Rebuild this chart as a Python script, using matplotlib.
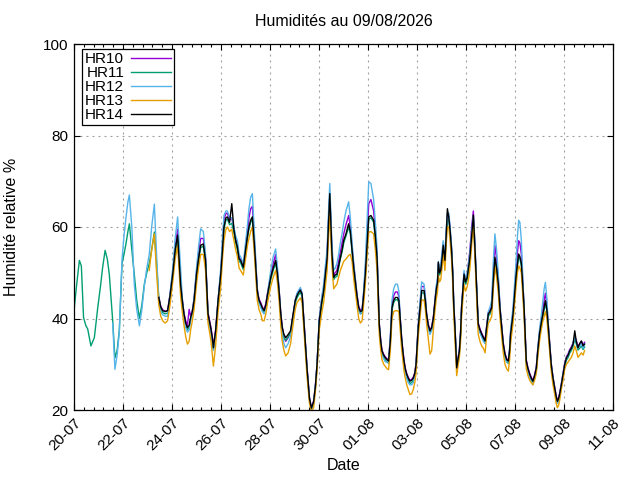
import numpy as np
import matplotlib
matplotlib.use("Agg")
import matplotlib.pyplot as plt
from matplotlib.ticker import MultipleLocator

NA = np.nan

# days since 20-07 00:00 -- early part, only HR11 / HR12 / HR13 logging
t_early = [0.0, 0.1, 0.22, 0.3, 0.39, 0.48, 0.56, 0.69, 0.83, 0.97,
           1.08, 1.17, 1.27, 1.36, 1.44, 1.52, 1.58, 1.67, 1.76, 1.85,
           1.96, 2.04, 2.12, 2.2, 2.26, 2.36, 2.46, 2.56, 2.67, 2.77,
           2.87, 2.97, 3.07, 3.17, 3.28, 3.37]
hr11_early = [41.7, 47, 52.7, 51.5, 40.2, 38.5, 37.7, 34, 35.8, 42.4,
              47, 51.2, 54.9, 53, 49.7, 44, 39.5, 31.4, 33, 37.5,
              52, 54, 56.3, 59, 60.7, 55, 49.7, 44, 40, 43,
              47.5, 50, 52, 55, 58.9, 52]
hr12_early = [NA] * 16 + [39, 28.9, 32, 37,
              53, 58, 62, 65.5, 67, 60, 47.5, 42, 38.4, 42,
              47, 51, 54, 60, 65, 54]
hr13_early = [NA] * 32 + [50.5, 55, 58.5, 50]

# main part, all five sensors
t_main = [3.46, 3.54, 3.62, 3.72, 3.82, 3.92, 4.03, 4.13, 4.23, 4.35,
          4.42, 4.49, 4.56, 4.63, 4.7, 4.76, 4.83, 4.9, 5.0, 5.08,
          5.17, 5.28, 5.37, 5.47, 5.58, 5.64, 5.69, 5.78, 5.88, 5.99,
          6.06, 6.12, 6.2, 6.26, 6.35, 6.44, 6.53, 6.6, 6.67, 6.74, 6.8,
          6.91, 7.0, 7.08, 7.14, 7.21, 7.28, 7.37, 7.48, 7.55, 7.62,
          7.69, 7.76, 7.83, 7.9, 8.03, 8.13, 8.23, 8.3, 8.37, 8.44,
          8.5, 8.57, 8.64, 8.74, 8.84, 8.9, 9.03, 9.1, 9.17, 9.24,
          9.31, 9.41, 9.51, 9.61, 9.69, 9.78, 9.85, 9.92, 10.01,
          10.12, 10.19, 10.26, 10.33, 10.37, 10.44, 10.49, 10.53, 10.6, 10.66, 10.73,
          10.8, 10.87, 10.94, 11.01, 11.1, 11.21, 11.28, 11.35, 11.42, 11.48,
          11.55, 11.62, 11.69, 11.76, 11.82, 11.89, 11.96, 12.03, 12.12, 12.23,
          12.3, 12.37, 12.42, 12.46, 12.52, 12.57, 12.64, 12.71, 12.78, 12.84, 12.91,
          12.98, 13.05, 13.12, 13.2, 13.26, 13.31, 13.37, 13.42, 13.47, 13.52, 13.58,
          13.64, 13.71, 13.78, 13.85, 13.91, 13.96, 14.05, 14.12, 14.19, 14.29,
          14.34, 14.39, 14.46, 14.53, 14.6, 14.67, 14.72, 14.78, 14.84, 14.87, 14.92,
          14.97, 15.02, 15.07, 15.14, 15.19, 15.24, 15.3, 15.35, 15.41, 15.46, 15.5,
          15.55, 15.62, 15.67, 15.73, 15.78, 15.82, 15.87, 15.92, 15.98, 16.05, 16.1,
          16.16, 16.23, 16.3, 16.36, 16.41, 16.46, 16.5, 16.57, 16.64, 16.71,
          16.78, 16.84, 16.91, 16.98, 17.05, 17.11, 17.18, 17.25, 17.32, 17.39,
          17.46, 17.52, 17.59, 17.66, 17.73, 17.78, 17.82, 17.92, 18.05,
          18.1, 18.15, 18.2, 18.26, 18.32, 18.37, 18.42, 18.46, 18.53, 18.6, 18.66,
          18.73, 18.8, 18.87, 18.93, 19.0, 19.07, 19.14, 19.19, 19.24, 19.3,
          19.35, 19.42, 19.48, 19.55, 19.62, 19.68, 19.73, 19.78, 19.82, 19.89,
          19.96, 20.03, 20.1, 20.17, 20.23, 20.3, 20.37, 20.44, 20.5,
          20.57, 20.64, 20.71, 20.78, 20.84]

hr14_main = [44.6, 42.5, 41.7, 41.5, 41.7, 45, 49.7, 55, 58.2, 47.5,
             43.9, 41, 39, 38, 38.5, 40.2, 41.5, 43.9, 49.7, 53,
             56, 56.3, 52.7, 41, 38, 36, 33.6, 37.3, 43.9, 49.7,
             55, 60, 62, 62.2, 61, 65.1, 59.3, 57, 55.6, 53, 52.7,
             51.2, 54.9, 58, 60, 61.5, 62.2, 55.6, 46.1, 44, 43.2,
             42.3, 41.7, 43, 45.3, 49, 51, 52.7, 50, 46.1, 41,
             38, 36.5, 35.8, 36.5, 37.3, 39.5, 43.9, 45, 45.7, 46.2,
             45.3, 37.3, 29.2, 22.6, 20.4, 21.8, 25, 29.9, 39.5,
             43.9, 46, 49.7, 53, 58.5, 67.3, 60, 54.1, 49, 49.5, 49.7,
             51.5, 53.4, 55, 57.1, 58.5, 60.7, 59, 54.9, 51, 48.3,
             45, 42.4, 41.5, 41.7, 45, 49.7, 56, 62.2, 62.5, 61.5,
             58, 53.4, 45, 38.8, 35, 32.9, 32, 31.4, 31, 30.7, 35,
             42.4, 44, 44.6, 44.6, 44, 40.2, 35.8, 33, 30.7, 29, 27.8,
             27, 26.3, 26.5, 27, 28, 29.9, 38, 42, 46.1, 46.1,
             44, 41, 38.5, 37.3, 38, 40.2, 43, 46.1, 48, 52.3, 50,
             50.5, 53, 56, 52.7, 58, 64, 62, 59.3, 55, 49.7, 43,
             38, 29.2, 31, 32.9, 37, 42.4, 46, 49.7, 48, 49, 51,
             53.4, 58, 62.6, 56, 49.7, 43, 38.8, 37.5, 36.6, 35.8,
             35.1, 38, 41, 41.5, 42.4, 48, 53.4, 51, 47.5, 42,
             38, 34.5, 32.2, 31, 30.7, 33, 36.6, 41, 49.7,
             52, 54.1, 53.5, 52, 47, 42.4, 36, 30.7, 29, 27.8, 27,
             26.3, 27.5, 29.2, 33, 36.6, 39, 41, 42.5, 43.9, 42,
             38.8, 34, 29.9, 27, 24.8, 23, 21.9, 22.5, 23.4, 25.5,
             27.8, 30, 31.4, 32, 32.9, 33.5, 34.4, 37.3, 35,
             33.6, 34.5, 35.1, 34, 34.4]

hr10_main = [44.8, 42.7, 41.9, 41.6, 41.8, 45.2, 50.2, 55.8, 59.5, 48,
             44.2, 41.2, 39.5, 38.5, 42, 40.5, 41.8, 44.2, 50.2, 54,
             57.5, 57.5, 53.2, 41.3, 38.3, 36.3, 34, 37.5, 44, 50,
             56, 61.5, 63, 63, 61.5, 62, 59.5, 57.3, 56, 53.3, 53,
             51.5, 55.5, 59, 62, 64, 64.5, 56.5, 46.5, 44.3, 43.5,
             42.5, 42, 43.3, 45.6, 49.5, 52, 54, 50.5, 46.5, 41.2,
             38.3, 36, 35, 35.8, 37, 39.2, 44, 45.3, 46, 46.5,
             45.5, 37.5, 29.5, 22.8, 20.5, 22, 25.2, 30, 39.8,
             44.5, 46.5, 50.5, 54, 59.5, 67, 60.5, 54.5, 49.5, 50, 50.5,
             52.5, 54.5, 56.5, 58.5, 60.5, 62.5, 60, 55.5, 51.5, 48.6,
             45.3, 42.7, 41.8, 42, 45.5, 50.5, 58, 65.1, 66, 63.5,
             59, 54, 45.3, 39, 35.2, 33.1, 32.2, 31.6, 31.2, 31, 35.5,
             43, 45, 45.8, 45.8, 44.8, 40.5, 36, 33.2, 30.9, 29.2, 28,
             27.2, 26.5, 26.7, 27.2, 28.2, 30.1, 38.5, 42.8, 47, 47,
             44.5, 41.2, 38.8, 37.5, 38.2, 40.5, 43.3, 46.5, 48.5, 52, 50.5,
             51, 53.5, 56.5, 53, 58.5, 62.5, 62.5, 59.5, 55.3, 50, 43.3,
             38.3, 30, 31.3, 33.2, 37.3, 42.7, 46.3, 50, 48.3, 49.5, 52,
             55, 60, 63.5, 56.5, 50, 43.3, 39, 37.8, 36.8, 36,
             35.3, 38.2, 41.3, 41.8, 43, 49.5, 56, 53, 48.5, 42.3,
             38.2, 34.7, 32.4, 31.2, 30.9, 33.3, 37, 41.5, 51,
             54.5, 57, 56.5, 54, 48, 42.7, 36.3, 31, 29.2, 28, 27.2,
             26.5, 27.7, 29.5, 33.3, 37, 39.5, 42, 44, 45.5, 43,
             39.2, 34.3, 30.2, 27.2, 25, 23.2, 22, 22.7, 23.6, 25.7,
             28, 30.3, 31.7, 32.3, 33.2, 33.8, 34.7, 36, 35.3,
             33.9, 34.5, 35, 34.3, 34.8]

hr11_main = [44.6, 42.3, 41.3, 41, 41.2, 44.5, 49.2, 54.5, 57.8, 47,
             43.3, 40.5, 38.5, 37.5, 38, 39.8, 41, 43.5, 49.2, 52.5,
             55.5, 55.8, 52.2, 40.5, 37.5, 35.5, 33.2, 36.8, 43.4, 49.2,
             54.5, 59.5, 61.5, 61.7, 60.5, 60.8, 58.8, 56.5, 55, 52.5, 52.2,
             50.7, 54.4, 57.5, 59.5, 61, 61.7, 55, 45.6, 43.5, 42.7,
             41.8, 41.2, 42.5, 44.8, 48.5, 50.5, 52.2, 49.5, 45.6, 40.5,
             37.5, 35.8, 35.2, 36, 36.8, 39, 43.4, 44.5, 45.2, 45.7,
             44.8, 36.8, 28.8, 22.2, 20.1, 21.5, 24.6, 29.5, 39,
             43.4, 45.5, 49.2, 52.5, 58, 66.5, 59.5, 53.6, 48.5, 49, 49.2,
             51, 53, 54.5, 56.5, 58, 60, 58.5, 54.4, 50.5, 47.8,
             44.5, 41.9, 41, 41.2, 44.5, 49.2, 55.5, 61.7, 62, 61,
             57.5, 52.9, 44.5, 38.3, 34.5, 32.4, 31.5, 30.9, 30.5, 30.2, 34.5,
             41.9, 43.5, 44.1, 44.1, 43.5, 39.7, 35.3, 32.5, 30.2, 28.5, 27.3,
             26.5, 25.8, 26, 26.5, 27.5, 29.4, 37.5, 41.5, 45.6, 45.6,
             43.5, 40.5, 38, 36.8, 37.5, 39.7, 42.5, 45.6, 47.5, 51, 49.5,
             50, 52.5, 55.5, 52.2, 57.5, 61.5, 61.5, 58.8, 54.5, 49.2, 42.5,
             37.5, 29.5, 30.5, 32.4, 36.5, 41.9, 45.5, 49.2, 47.5, 48.5, 50.5,
             53, 57.5, 61.5, 55.5, 49.2, 42.5, 38.3, 37, 36.1, 35.3,
             34.6, 37.5, 40.5, 41, 41.9, 47.5, 53, 50.5, 47, 41.5,
             37.5, 34, 31.7, 30.5, 30.2, 32.5, 36.1, 40.5, 49.2,
             51.5, 53.6, 53, 51.5, 46.5, 41.9, 35.5, 30.2, 28.5, 27.3, 26.5,
             25.8, 27, 28.7, 32.5, 36.1, 38.5, 40.5, 42, 43.4, 41.5,
             38.3, 33.5, 29.4, 26.5, 24.3, 22.5, 21.5, 22, 22.9, 25,
             27.3, 29.5, 30.9, 31.5, 32.4, 33, 33.9, 35.5, 34.5,
             33.1, 33.5, 34, 33.2, 33.8]

hr12_main = [44, 41.5, 40.8, 40.5, 40.5, 45.5, 51, 57.5, 62.2, 51,
             44.5, 40.5, 38, 37, 37.5, 39.5, 41.5, 44.5, 51, 55.5,
             59.6, 59, 54, 40, 37, 35, 33, 36.5, 44, 51,
             57.5, 62.5, 63.5, 63.5, 62, 62, 60, 58, 57, 54, 53.5,
             52, 56.5, 60.5, 64, 66.5, 67.3, 58, 46.5, 43.5, 42.5,
             41.5, 41, 42.5, 45.5, 50.5, 53.5, 55.2, 51.5, 46.5, 40,
             36.5, 34.5, 33.6, 34.5, 36, 38.5, 44, 45.5, 46.2, 46.8,
             45.5, 37, 29, 22.5, 20.2, 21.5, 25, 30, 40,
             45, 47.5, 51.5, 55, 61, 69.5, 62, 56, 50.5, 51, 52,
             54, 56.5, 58.5, 61, 63.5, 65.5, 62, 56.5, 52, 49,
             45, 42, 41, 41.5, 46, 52, 61, 69.9, 69.5, 66,
             61, 55.5, 45.5, 38.5, 34.5, 32, 31.2, 30.5, 30.5, 30.5, 36,
             44, 46.5, 47.5, 47.5, 46, 40.5, 35.5, 32.5, 30, 28, 27,
             26, 25.5, 25.5, 26, 27.5, 29.5, 38.5, 43.5, 48, 47.5,
             45, 41, 38, 36.5, 37.5, 40, 43, 47, 49, 52.5, 51,
             52, 54.5, 57, 53.5, 59.5, 63, 63, 60, 56, 50.5, 43,
             37.5, 30, 31, 33, 37, 42.5, 46.5, 50.5, 48.5, 50, 52,
             54.5, 59, 62.5, 57, 50.5, 43, 38.5, 37, 36, 35,
             34.5, 38, 41.5, 42.5, 44, 52, 58.5, 55, 49.5, 42.5,
             38, 34, 31.5, 30.5, 30.5, 33.5, 37.5, 42.5, 53,
             58, 61.5, 61, 57, 49, 42.5, 35.5, 30, 28.5, 27, 26.5,
             25.5, 27, 29, 33.5, 37.5, 40.5, 44, 46.5, 47.9, 44.5,
             39.5, 34, 30, 27, 24.5, 22.5, 21.5, 22, 23, 25.5,
             28, 30, 31.5, 32, 33, 33.5, 34.5, 36, 35,
             33.5, 34, 34.5, 33.5, 34.5]

hr13_main = [43, 40.5, 39.5, 39, 39.5, 43, 48, 53, 56, 45,
             41.5, 38.5, 36, 34.4, 35, 37.5, 39.5, 42, 47.5, 51,
             54, 54, 50.5, 39, 35.5, 32.5, 29.6, 34, 41.5, 47,
             53, 57, 59.5, 60, 59, 59.5, 57, 55, 53.5, 51, 50.5,
             49.5, 53, 56, 57.5, 59, 60, 53.5, 44, 42, 41,
             39.5, 39.5, 41, 43.5, 47, 49, 50.5, 48, 44, 38.5,
             35, 33, 31.8, 32.5, 34.5, 37, 42, 43.5, 44, 44.5,
             43.5, 35.5, 27.5, 21.5, 19.5, 20.5, 24, 28.5, 37.5,
             41.5, 43.5, 47, 50.5, 55.5, 62.9, 57, 51.5, 46.5, 47, 47.5,
             49, 50.5, 51.5, 52.5, 53, 53.8, 54, 52.5, 48.5, 46,
             43, 40, 39, 39.5, 43, 47.5, 53.5, 58.9, 59, 58.5,
             55, 50.5, 43, 36.5, 33, 31, 30, 29.5, 29, 28.8, 33,
             40, 41.5, 41.7, 41.7, 41.5, 38, 33.5, 31, 28.5, 27, 25.5,
             24.5, 23.4, 23.5, 24.5, 26, 28, 36, 40, 44, 44,
             42, 39, 35.5, 32.2, 33, 37.5, 41, 44, 46, 49.5, 48,
             48.5, 51, 54, 50.5, 56, 60, 60, 57, 53, 47.5, 41,
             35.5, 27.5, 29.5, 31.5, 35, 40.5, 44, 47.5, 46, 47, 48.5,
             51, 56, 61, 54, 47.5, 41, 36.5, 35, 34, 33.5,
             32.5, 36, 39, 39.5, 40.5, 46, 51.5, 49, 45.5, 40,
             36, 32.5, 30, 29, 28.5, 31, 34.5, 39, 47.5,
             50, 51.5, 51, 50, 45, 40.5, 34, 29, 27.5, 26.5, 26,
             25.5, 26.5, 28, 31.5, 35, 37.5, 39.5, 40.5, 41.5, 40,
             37, 32.5, 28.5, 25.5, 23.5, 21.5, 20.5, 21, 22, 24.5,
             26.5, 29, 30, 30.5, 31, 31.5, 32.5, 34, 33,
             31.5, 32, 32.5, 32, 33]

labels = ["HR10", "HR11", "HR12", "HR13", "HR14"]
colors = ["#9400d3", "#009e73", "#56b4e9", "#e69f00", "#000000"]
tick_pos = [0, 2, 4, 6, 8, 10, 12, 14, 16, 18, 20, 22]
tick_labels = ["20-07", "22-07", "24-07", "26-07", "28-07", "30-07",
               "01-08", "03-08", "05-08", "07-08", "09-08", "11-08"]

t_all = np.array(t_early + t_main)
n_early = len(t_early)
series = [
    [NA] * n_early + hr10_main,
    hr11_early + hr11_main,
    hr12_early + hr12_main,
    hr13_early + hr13_main,
    [NA] * n_early + hr14_main,
]

plt.rcParams["font.family"] = ["Liberation Sans", "DejaVu Sans"]
plt.rcParams["font.size"] = 10.5

fig = plt.figure(figsize=(6.4, 4.8), dpi=100)
ax = fig.add_axes([74 / 640, 1 - 410 / 480, 539 / 640, 366 / 480])

for lab, col, vals in zip(labels, colors, series):
    ax.plot(t_all, np.array(vals, dtype=float), color=col, lw=1.0, label=lab)

ax.set_xlim(0, 22)
ax.set_ylim(20, 100)
ax.set_xticks(tick_pos)
ax.set_xticklabels(tick_labels, rotation=45, ha="right", va="top",
                   rotation_mode="anchor", fontsize=11)
ax.xaxis.set_minor_locator(MultipleLocator(0.4))
ax.set_yticks([20, 40, 60, 80, 100])
ax.tick_params(axis="y", labelsize=11)

ax.tick_params(which="both", direction="in", top=True, right=True, width=0.8)
ax.tick_params(which="major", length=4, pad=4)
ax.tick_params(which="minor", length=2)
for sp in ax.spines.values():
    sp.set_linewidth(0.9)

ax.grid(True, which="major", color="#a0a0a0", lw=0.8, linestyle=(0, (1.8, 3.6)))
ax.set_axisbelow(True)

leg = ax.legend(loc="upper left", bbox_to_anchor=(0.015, 0.986),
                borderaxespad=0, markerfirst=False, fancybox=False,
                framealpha=1, edgecolor="black", handlelength=2.6,
                handletextpad=0.45, labelspacing=0.0, borderpad=0.2,
                fontsize=11)
leg.get_frame().set_linewidth(0.9)

fig.text(343.5 / 640, 1 - 22 / 480, "Humidités au 09/08/2026",
         ha="center", va="center", fontsize=11.5)
fig.text(343.5 / 640, 1 - 466 / 480, "Date", ha="center", va="center",
         fontsize=11.5)
fig.text(12 / 640, 1 - 227 / 480, "Humidité relative %", rotation=90,
         ha="center", va="center", fontsize=11.5)

fig.savefig("out.png", dpi=100)
